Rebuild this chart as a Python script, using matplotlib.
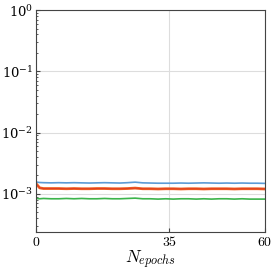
import matplotlib
matplotlib.use("Agg")
import matplotlib.pyplot as plt
from matplotlib.ticker import LogLocator, NullFormatter

plt.rcParams["mathtext.fontset"] = "cm"
plt.rcParams["font.family"] = "serif"
plt.rcParams["font.serif"] = ["DejaVu Serif"]

# ----------------------------------------------------------------------
# Data
# ----------------------------------------------------------------------
epochs = [0, 1, 2, 4, 6, 8, 10, 12, 14, 16, 18, 20, 22, 24, 26, 28, 30,
          32, 34, 36, 38, 40, 42, 44, 46, 48, 50, 52, 54, 56, 58, 60]
loss_blue = [1.56e-3, 1.53e-3, 1.52e-3, 1.51e-3, 1.52e-3, 1.51e-3, 1.52e-3,
             1.51e-3, 1.50e-3, 1.51e-3, 1.52e-3, 1.51e-3, 1.50e-3, 1.52e-3,
             1.55e-3, 1.51e-3, 1.50e-3, 1.49e-3, 1.49e-3, 1.49e-3, 1.50e-3,
             1.49e-3, 1.50e-3, 1.51e-3, 1.50e-3, 1.49e-3, 1.50e-3, 1.49e-3,
             1.50e-3, 1.49e-3, 1.49e-3, 1.48e-3]
loss_red = [1.48e-3, 1.25e-3, 1.22e-3, 1.22e-3, 1.22e-3, 1.21e-3, 1.22e-3,
            1.21e-3, 1.21e-3, 1.22e-3, 1.22e-3, 1.21e-3, 1.21e-3, 1.22e-3,
            1.24e-3, 1.21e-3, 1.21e-3, 1.20e-3, 1.21e-3, 1.21e-3, 1.20e-3,
            1.21e-3, 1.21e-3, 1.20e-3, 1.21e-3, 1.21e-3, 1.21e-3, 1.20e-3,
            1.21e-3, 1.21e-3, 1.21e-3, 1.20e-3]
loss_green = [0.84e-3, 0.83e-3, 0.84e-3, 0.83e-3, 0.83e-3, 0.84e-3, 0.83e-3,
              0.84e-3, 0.83e-3, 0.83e-3, 0.84e-3, 0.83e-3, 0.83e-3, 0.84e-3,
              0.85e-3, 0.83e-3, 0.83e-3, 0.82e-3, 0.83e-3, 0.82e-3, 0.83e-3,
              0.83e-3, 0.82e-3, 0.83e-3, 0.82e-3, 0.83e-3, 0.83e-3, 0.82e-3,
              0.83e-3, 0.82e-3, 0.82e-3, 0.82e-3]

xticks = [0, 35, 60]

# ----------------------------------------------------------------------
# Plot
# ----------------------------------------------------------------------
fig = plt.figure(figsize=(2.78, 2.73), dpi=100)
ax = fig.add_axes([0.129, 0.151, 0.824, 0.812])

ax.plot(epochs, loss_blue, color="#5b9bd5", linewidth=1.2)
ax.plot(epochs, loss_red, color="#f0621e", linewidth=2.0)
ax.plot(epochs, loss_red, color="#d62728", linewidth=0.8, alpha=0.6)
ax.plot(epochs, loss_green, color="#3cb44b", linewidth=1.2)

ax.set_yscale("log")
ax.set_ylim(2.4e-4, 1.0)
ax.set_xlim(0, 60)
ax.set_xticks(xticks)
ax.set_xticklabels([f"${t}$" for t in xticks])
ax.yaxis.set_major_locator(LogLocator(base=10, numticks=10))
ax.yaxis.set_minor_locator(LogLocator(base=10, subs=range(2, 10), numticks=20))
ax.yaxis.set_minor_formatter(NullFormatter())

ax.grid(True, which="major", color="#dddddd", linewidth=0.8)
ax.tick_params(axis="both", which="both", direction="in", labelsize=10,
               color="#444444", pad=2)
ax.tick_params(axis="y", labelsize=9.5)
ax.tick_params(which="major", length=3)
ax.tick_params(which="minor", length=1.5)
for sp in ax.spines.values():
    sp.set_color("#444444")
    sp.set_linewidth(0.8)

ax.set_xlabel(r"$N_{epochs}$", fontsize=12.5, labelpad=0)

fig.savefig("out.png", dpi=100)
